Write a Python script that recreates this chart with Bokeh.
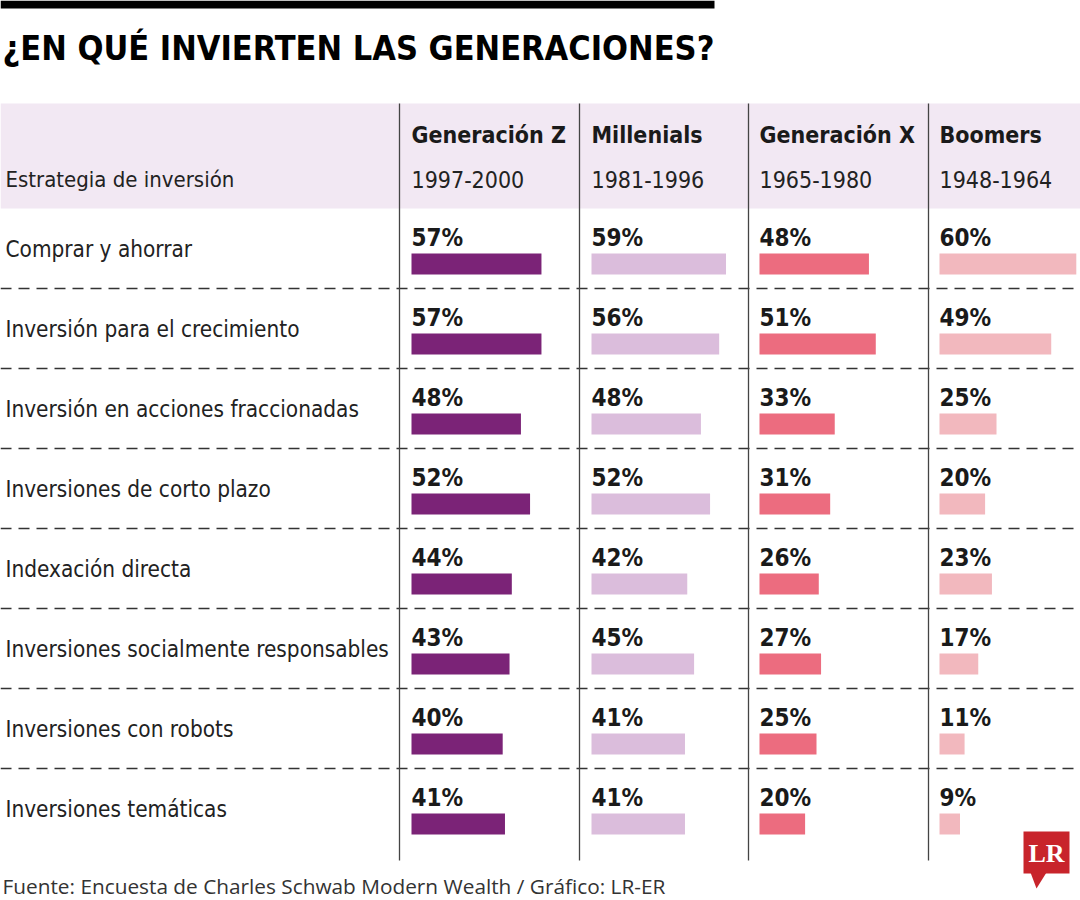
from bokeh.plotting import figure
from bokeh.models import Range1d, ColumnDataSource
from bokeh.core.properties import value
from bokeh.embed import file_html
from bokeh.resources import INLINE

# ---- data ----
strategies = ["Comprar y ahorrar", "Inversión para el crecimiento",
              "Inversión en acciones fraccionadas", "Inversiones de corto plazo",
              "Indexación directa", "Inversiones socialmente responsables",
              "Inversiones con robots", "Inversiones temáticas"]
generations = ["Generación Z", "Millenials", "Generación X", "Boomers"]
years = ["1997-2000", "1981-1996", "1965-1980", "1948-1964"]
gen_z = [57, 57, 48, 52, 44, 43, 40, 41]
millenials = [59, 56, 48, 52, 42, 45, 41, 41]
gen_x = [48, 51, 33, 31, 26, 27, 25, 20]
boomers = [60, 49, 25, 20, 23, 17, 11, 9]
series = [gen_z, millenials, gen_x, boomers]

title = "¿EN QUÉ INVIERTEN LAS GENERACIONES?"
row_header = "Estrategia de inversión"
source_note = "Fuente: Encuesta de Charles Schwab Modern Wealth / Gráfico: LR-ER"

# ---- style / layout ----
W, H = 1080, 900
K = 2.28                      # pixels per percentage point (x unit = 1 pp)
def X(px):
    return px / K

bar_colors = ["#7b2377", "#dbbddc", "#ec6c7f", "#f2b8be"]
col_start_px = [411, 591, 759, 939]
sep_px = [399, 579, 748, 928]
header_top, header_bot = 103, 208
row_h = 80
NARROW = "DejaVu Sans Condensed"
ink = "#1a1a1a"

p = figure(width=W, height=H, output_backend="svg", toolbar_location=None,
           x_range=Range1d(0, X(W)), y_range=Range1d(H, 0),
           x_axis_location=None, y_axis_location=None,
           min_border=0, min_border_left=0, min_border_right=0,
           min_border_top=0, min_border_bottom=0)
p.grid.visible = False
p.outline_line_color = None
p.background_fill_color = "white"
p.border_fill_color = "white"

# top black bar
p.quad(left=[0], right=[X(714)], top=[0], bottom=[8], color="black", line_color=None)

# title
p.text(x=[X(2)], y=[47], text=[title], text_font=value(NARROW), text_font_style="bold",
       text_font_size="34px", text_color="black", text_baseline="middle")

# header band
p.quad(left=[0], right=[X(W)], top=[header_top], bottom=[header_bot],
       color="#f2e8f3", line_color=None)

p.text(x=[X(5)], y=[179], text=[row_header], text_font=value(NARROW),
       text_font_size="22px", text_color="#222222", text_baseline="middle")

hdr = ColumnDataSource(dict(x=[X(c) for c in col_start_px], gen=generations, yr=years))
p.text(x="x", y=134, text="gen", source=hdr, text_font=value(NARROW), text_font_style="bold",
       text_font_size="23px", text_color=ink, text_baseline="middle")
p.text(x="x", y=179, text="yr", source=hdr, text_font=value(NARROW),
       text_font_size="23px", text_color="#222222", text_baseline="middle")

# row separators (dashed)
for i in range(len(strategies) - 1):
    yy = header_bot + row_h * (i + 1)
    p.line(x=[0, X(W)], y=[yy, yy], line_color="#333333", line_width=1.5, line_dash="11 7")

# column separators
for s in sep_px:
    p.line(x=[X(s), X(s)], y=[header_top, 860], line_color="#444444", line_width=1.3)

# row labels
row_tops = [header_bot + row_h * i for i in range(len(strategies))]
rl = ColumnDataSource(dict(x=[X(5)] * len(strategies), y=[t + 40 for t in row_tops], t=strategies))
p.text(x="x", y="y", text="t", source=rl, text_font=value(NARROW), text_font_size="22.4px",
       text_color="#222222", text_baseline="middle")

# bars and value labels
for j, vals in enumerate(series):
    start = X(col_start_px[j])
    src = ColumnDataSource(dict(
        left=[start] * len(vals),
        right=[start + v for v in vals],
        top=[t + 45 for t in row_tops],
        bottom=[t + 66 for t in row_tops],
        ly=[t + 29 for t in row_tops],
        lbl=[f"{v}%" for v in vals],
    ))
    p.quad(left="left", right="right", top="top", bottom="bottom", source=src,
           fill_color=bar_colors[j], line_color=None)
    p.text(x="left", y="ly", text="lbl", source=src, text_font=value(NARROW),
           text_font_style="bold", text_font_size="24px", text_color=ink,
           text_baseline="middle")

# footer
p.text(x=[X(2)], y=[885], text=[source_note], text_font=value("Open Sans"),
       text_font_size="20.8px", text_color="#333333", text_baseline="middle")

# LR logo
p.quad(left=[X(1023)], right=[X(1069)], top=[831], bottom=[873], color="#c8242b", line_color=None)
p.patch(x=[X(1030), X(1046), X(1036)], y=[872, 872, 888], color="#c8242b", line_color=None)
p.text(x=[X(1046)], y=[853], text=["LR"], text_font=value("Liberation Serif"),
       text_font_style="bold", text_font_size="26px", text_color="white",
       text_align="center", text_baseline="middle")

open("out.html", "w").write(file_html(p, INLINE))
